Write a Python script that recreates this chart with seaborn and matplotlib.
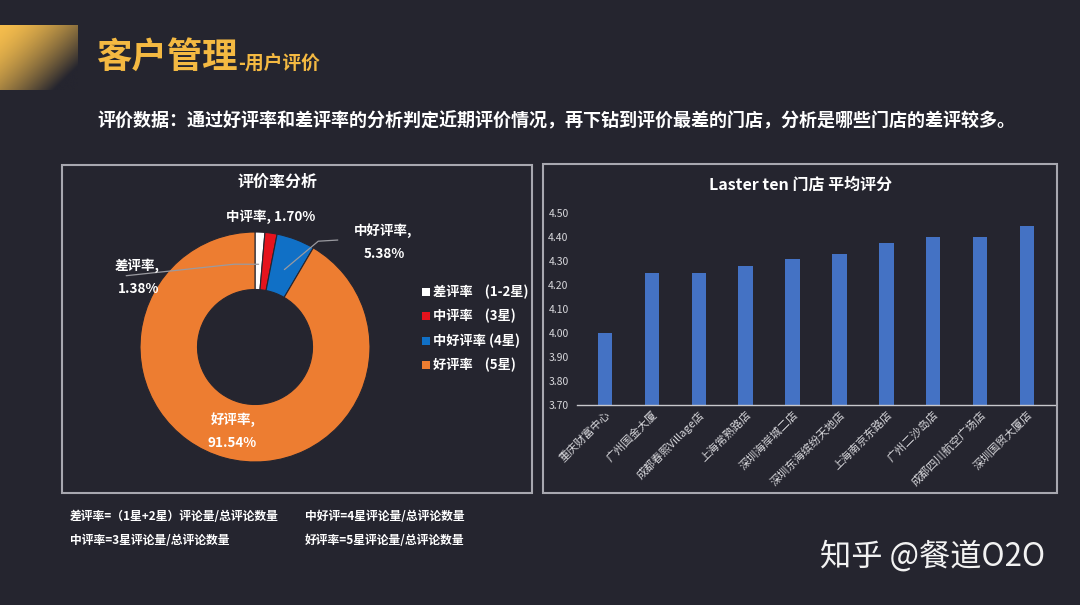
import numpy as np
import matplotlib
matplotlib.use("Agg")
import matplotlib.pyplot as plt
import seaborn as sns
from matplotlib.patches import Rectangle

# ---------------- data ----------------
pie_labels = ["差评率", "中评率", "中好评率", "好评率"]
pie_legend = ["差评率    (1-2星)", "中评率    (3星)", "中好评率 (4星)", "好评率    (5星)"]
pie_values = [1.38, 1.70, 5.38, 91.54]
pie_colors = ["#ffffff", "#e5131d", "#1070c6", "#ed7d31"]

stores = ["重庆财富中心", "广州国金大厦", "成都春熙Village店", "上海常熟路店", "深圳海岸城二店",
          "深圳东海缤纷天地店", "上海南京东路店", "广州二沙岛店", "成都四川航空广场店", "深圳国贸大厦店"]
scores = [4.00, 4.25, 4.25, 4.28, 4.31, 4.33, 4.375, 4.40, 4.40, 4.445]
ytick_vals = [3.70, 3.80, 3.90, 4.00, 4.10, 4.20, 4.30, 4.40, 4.50]

BG = "#25252f"
W, H = 1080, 605

sns.set_theme(style="dark")
plt.rcParams['font.family'] = ['Noto Sans CJK SC', 'DejaVu Sans']
plt.rcParams['axes.unicode_minus'] = False

fig = plt.figure(figsize=(W / 100, H / 100), dpi=100, facecolor=BG)


def fx(x):
    return x / W


def fy(y):
    return 1 - y / H


def rect_ax(x0, y0, x1, y1):
    return [fx(x0), fy(y1), fx(x1) - fx(x0), fy(y0) - fy(y1)]


# ---------------- header ----------------
gax = fig.add_axes(rect_ax(0, 25, 78, 90))
gx = np.linspace(0, 1, 200)
gy = np.linspace(0, 1, 100)
GX, GY = np.meshgrid(gx, gy)
t = np.clip(0.65 * GX + 0.55 * GY, 0, 1)
c0 = np.array([0.96, 0.74, 0.30])
c1 = np.array(matplotlib.colors.to_rgb(BG))
img = c0[None, None, :] * (1 - t[..., None] ** 1.6) + c1[None, None, :] * (t[..., None] ** 1.6)
gax.imshow(img, aspect="auto", origin="upper")
gax.axis("off")

fig.text(fx(96), fy(57), "客户管理", color="#f4b942", fontsize=25.5, fontweight="bold",
         ha="left", va="center")
fig.text(fx(238), fy(63), "-用户评价", color="#f4b942", fontsize=13.5, fontweight="bold",
         ha="left", va="center")

fig.text(fx(97), fy(121), "评价数据：通过好评率和差评率的分析判定近期评价情况，再下钻到评价最差的门店，分析是哪些门店的差评较多。",
         color="white", fontsize=13, fontweight="bold", ha="left", va="center")

# ---------------- panels ----------------
for (x0, y0, x1, y1) in [(62, 165, 532, 493), (543, 164, 1057, 493)]:
    fig.patches.append(Rectangle((fx(x0), fy(y1)), fx(x1) - fx(x0), fy(y0) - fy(y1),
                                 transform=fig.transFigure, fill=False,
                                 edgecolor="#a8a8b0", linewidth=1.5))

# ---------------- pie ----------------
cx, cy, R = 255, 347, 115
pax = fig.add_axes(rect_ax(cx - R, cy - R, cx + R, cy + R))
pax.set_facecolor("none")
wedges, _ = pax.pie(pie_values, colors=pie_colors, startangle=90, counterclock=False,
                    radius=1.0, wedgeprops=dict(width=0.5, edgecolor=BG, linewidth=0.8))
pax.set_xlim(-1, 1)
pax.set_ylim(-1, 1)
pax.set_aspect("equal")
pax.axis("off")

fig.text(fx(277), fy(182), "评价率分析", color="white", fontsize=11.5, fontweight="bold",
         ha="center", va="center")

# slice labels
mid_angles = []
acc = 0
for v in pie_values:
    mid = 90 - (acc + v / 2) / 100 * 360
    mid_angles.append(np.deg2rad(mid))
    acc += v

lab_fs = 9.7
fig.text(fx(137), fy(266), "差评率,", color="white", fontsize=lab_fs, fontweight="bold", ha="center", va="center")
fig.text(fx(139), fy(289), f"{pie_values[0]:.2f}%", color="white", fontsize=lab_fs, fontweight="bold", ha="center", va="center")
fig.text(fx(271), fy(217), f"{pie_labels[1]}, {pie_values[1]:.2f}%", color="white", fontsize=lab_fs,
         fontweight="bold", ha="center", va="center")
fig.text(fx(383), fy(231), "中好评率,", color="white", fontsize=lab_fs, fontweight="bold", ha="center", va="center")
fig.text(fx(384), fy(254), f"{pie_values[2]:.2f}%", color="white", fontsize=lab_fs, fontweight="bold", ha="center", va="center")
fig.text(fx(233), fy(420), "好评率,", color="white", fontsize=lab_fs, fontweight="bold", ha="center", va="center")
fig.text(fx(232), fy(443), f"{pie_values[3]:.2f}%", color="white", fontsize=lab_fs, fontweight="bold", ha="center", va="center")

# leader lines (anchored on the slice mid-angles)
a0 = mid_angles[0]
r0 = 0.72
pax.plot([np.cos(a0) * r0, -0.18, -1.12], [np.sin(a0) * r0, 0.72, 0.62],
         color="#9a9aa0", linewidth=0.9, clip_on=False)
a2 = mid_angles[2]
r2 = 0.72
pax.plot([np.cos(a2) * r2, 0.55, 0.72], [np.sin(a2) * r2, 0.92, 0.93],
         color="#9a9aa0", linewidth=0.9, clip_on=False)

# legend
for i, txt in enumerate(pie_legend):
    yy = 292 + i * 24.3
    fig.patches.append(Rectangle((fx(422), fy(yy + 4)), fx(8), 8 / H, transform=fig.transFigure,
                                 facecolor=pie_colors[i], edgecolor="none"))
    fig.text(fx(433), fy(yy), txt, color="white", fontsize=9.5, fontweight="bold",
             ha="left", va="center")

# ---------------- bar chart ----------------
bax = fig.add_axes(rect_ax(577, 213, 1055, 405))
bax.set_facecolor(BG)
sns.barplot(x=stores, y=scores, color="#4472c4", width=0.31, ax=bax, saturation=1,
            linewidth=0, edgecolor="none")
bax.set_ylim(3.70, 4.50)
bax.set_yticks(ytick_vals)
bax.set_yticklabels([f"{v:.2f}" for v in ytick_vals], color="#d8d8dc", fontsize=7.5)
bax.set_xticks(range(len(stores)))
bax.set_xticklabels(stores, rotation=45, ha="right", rotation_mode="anchor",
                    color="#d8d8dc", fontsize=8)
bax.tick_params(axis="both", length=0, pad=3)
bax.tick_params(axis="y", pad=6)
bax.set_xlim(-0.6, len(stores) - 0.4)
for s in ["top", "right", "left"]:
    bax.spines[s].set_visible(False)
bax.spines["bottom"].set_color("#c8c8cc")
bax.spines["bottom"].set_linewidth(1.0)
bax.grid(False)
bax.set_xlabel("")
bax.set_ylabel("")

fig.text(fx(801), fy(185), "Laster ten 门店 平均评分", color="white", fontsize=11.5, fontweight="bold",
         ha="center", va="center")

# ---------------- notes ----------------
note_fs = 8.5
fig.text(fx(70), fy(517), "差评率=（1星+2星）评论量/总评论数量", color="white", fontsize=note_fs, fontweight="bold", ha="left", va="center")
fig.text(fx(305), fy(517), "中好评=4星评论量/总评论数量", color="white", fontsize=note_fs, fontweight="bold", ha="left", va="center")
fig.text(fx(70), fy(541), "中评率=3星评论量/总评论数量", color="white", fontsize=note_fs, fontweight="bold", ha="left", va="center")
fig.text(fx(305), fy(541), "好评率=5星评论量/总评论数量", color="white", fontsize=note_fs, fontweight="bold", ha="left", va="center")

fig.text(fx(820), fy(557), "知乎 @餐道O2O", color="#f2f2f2", fontsize=22.5, ha="left", va="center")

fig.savefig("out.png", dpi=100, facecolor=BG)
